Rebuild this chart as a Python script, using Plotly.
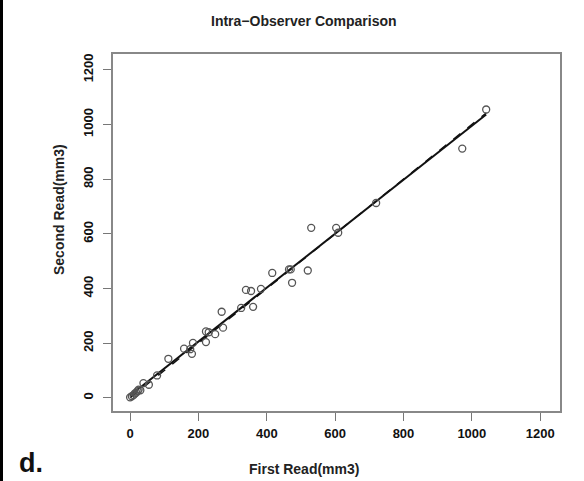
import numpy as np
import plotly.graph_objects as go

# Data (mm3)
first_read = [0, 5, 10, 14, 18, 22, 25, 30, 39, 55, 79, 112, 158, 176, 181, 184,
              222, 222, 230, 249, 272, 268, 325, 339, 354, 360, 383, 416, 465,
              470, 474, 520, 530, 603, 609, 720, 972, 1042]
second_read = [2, 6, 10, 16, 19, 25, 30, 28, 54, 48, 82, 143, 180, 178, 161, 201,
               204, 243, 240, 233, 257, 315, 329, 395, 391, 333, 399, 457, 470,
               470, 421, 466, 622, 622, 604, 713, 912, 1055]
tick_vals = [0, 200, 400, 600, 800, 1000, 1200]

W, H = 584, 481
L, R, T, B = 113, 560, 54, 411
pw, ph = R - L, B - T

def px(x):
    return (x - L) / pw

def py(y):
    return (B - y) / ph

x = np.array(first_read, dtype=float)
y = np.array(second_read, dtype=float)
slope, intercept = np.polyfit(x, y, 1)
xl = np.array([x.min(), x.max()])

FONT = "Liberation Sans, Arial, Helvetica, sans-serif"

fig = go.Figure()
fig.add_trace(go.Scatter(x=xl, y=xl, mode="lines",
                         line=dict(color="#111", width=1.5, dash="dash"),
                         showlegend=False, hoverinfo="skip"))
fig.add_trace(go.Scatter(x=xl, y=slope * xl + intercept, mode="lines",
                         line=dict(color="#111", width=2),
                         showlegend=False, hoverinfo="skip"))
fig.add_trace(go.Scatter(x=first_read, y=second_read, mode="markers",
                         marker=dict(symbol="circle-open", size=7,
                                     color="#555", line=dict(width=1.3, color="#555")),
                         showlegend=False))

axis_common = dict(
    tickvals=tick_vals, ticks="outside", ticklen=8, tickwidth=1.3, tickcolor="#777",
    showline=True, linecolor="#888", linewidth=1.5, mirror=True,
    showgrid=False, zeroline=False,
    tickfont=dict(family=FONT, size=13, color="#111", weight="bold"),
)
fig.update_xaxes(range=[-50, 1258], ticklabelstandoff=2, **axis_common)
fig.update_yaxes(range=[-48, 1258], tickangle=-90, ticklabelstandoff=5, **axis_common)

ann_font = dict(family=FONT, size=14, color="#222", weight="bold")
fig.add_annotation(text="Intra\u2212Observer Comparison", xref="paper", yref="paper",
                   x=px(304), y=py(21), showarrow=False, xanchor="center",
                   yanchor="middle", font=ann_font)
fig.add_annotation(text="First Read(mm3)", xref="paper", yref="paper",
                   x=px(304), y=py(469), showarrow=False, xanchor="center",
                   yanchor="middle", font=ann_font)
fig.add_annotation(text="Second Read(mm3)", xref="paper", yref="paper",
                   x=px(59), y=py(210), showarrow=False, textangle=-90,
                   xanchor="center", yanchor="middle", font=ann_font)
fig.add_annotation(text="<b>d.</b>", xref="paper", yref="paper",
                   x=px(17), y=py(463), showarrow=False, xanchor="left",
                   yanchor="middle", font=dict(family=FONT, size=27, color="#111"))

fig.add_shape(type="line", xref="paper", yref="paper",
              x0=px(1.5), x1=px(1.5), y0=py(0), y1=py(H),
              line=dict(color="#000", width=3))

fig.update_layout(width=W, height=H,
                  margin=dict(l=L, r=W - R, t=T, b=H - B),
                  paper_bgcolor="white", plot_bgcolor="white")

fig.write_html("out.html")
